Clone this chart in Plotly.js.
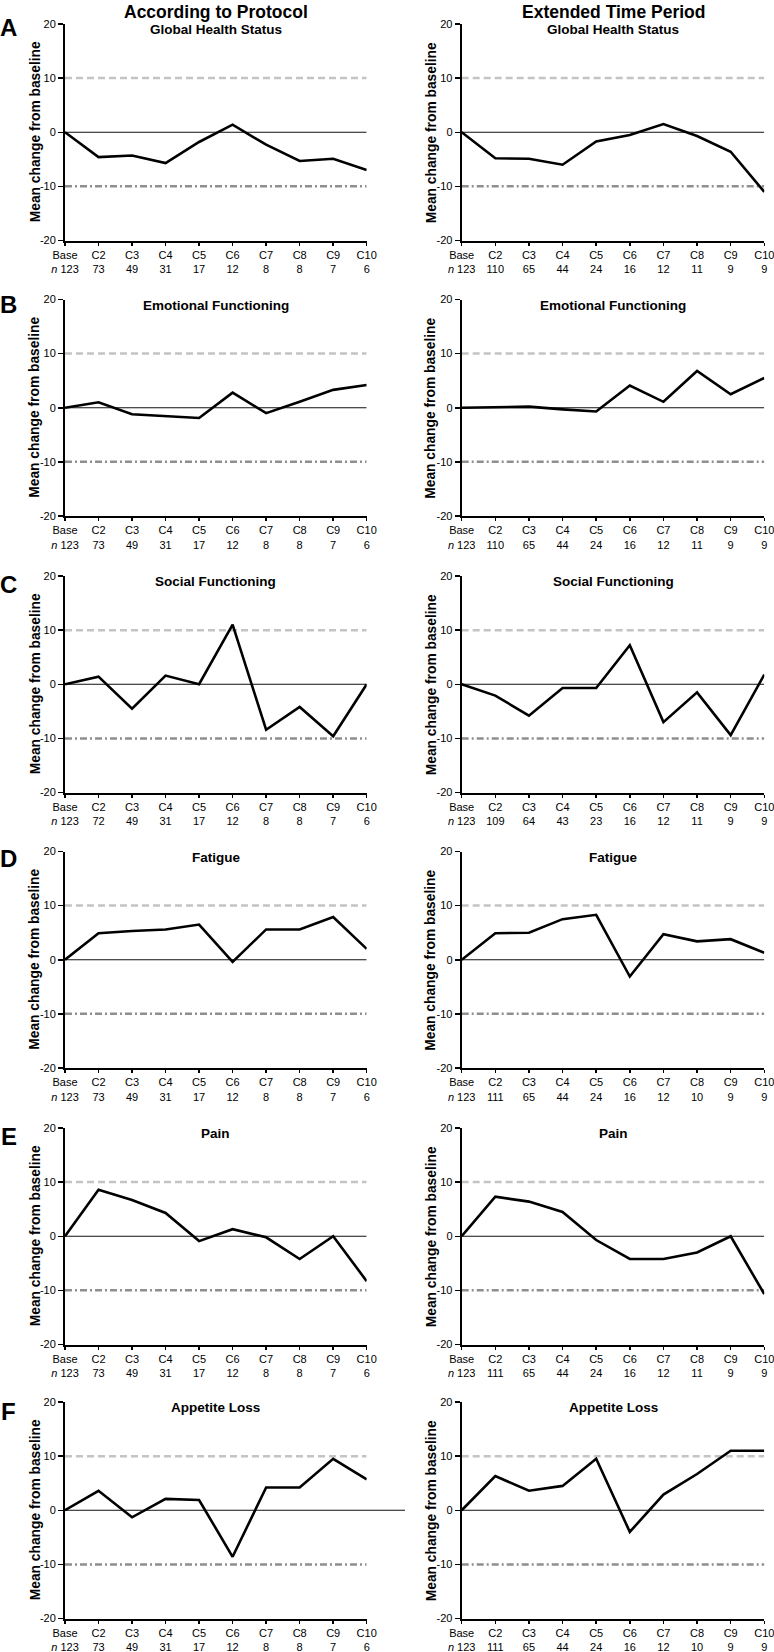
<!DOCTYPE html>
<html>
<head>
<meta charset="utf-8">
<script src="https://cdn.plot.ly/plotly-3.0.1.min.js"></script>
<style>
html,body{margin:0;padding:0;background:#fff;}
#chart{width:774px;height:1652px;}
</style>
</head>
<body>
<div id="chart"></div>
<script>
// ---------- data ----------
const cycles = ['Base','C2','C3','C4','C5','C6','C7','C8','C9','C10'];
const panelLetters = ['A','B','C','D','E','F'];
const scaleNames = ['Global Health Status','Emotional Functioning','Social Functioning','Fatigue','Pain','Appetite Loss'];
const columnTitles = ['According to Protocol','Extended Time Period'];
const yAxisTitle = 'Mean change from baseline';
const yTicks = [-20,-10,0,10,20];
const mcidUpper = 10;
const mcidLower = -10;
const noChange = 0;

// According to protocol
const protoGlobal    = [0,-4.6,-4.3,-5.7,-1.8, 1.4,-2.3,-5.3,-4.9,-7.0];
const protoEmotional = [0, 1.0,-1.2,-1.5,-1.9, 2.8,-1.0, 1.1, 3.3, 4.2];
const protoSocial    = [0, 1.4,-4.5, 1.6, 0.0,11.0,-8.4,-4.2,-9.6, 0.0];
const protoFatigue   = [0, 4.9, 5.3, 5.6, 6.5,-0.4, 5.6, 5.6, 7.9, 2.0];
const protoPain      = [0, 8.6, 6.7, 4.3,-0.9, 1.3,-0.2,-4.2, 0.0,-8.3];
const protoAppetite  = [0, 3.6,-1.3, 2.1, 1.9,-8.6, 4.2, 4.2, 9.5, 5.7];

// Extended time period
const extGlobal    = [0,-4.8,-4.9,-6.0,-1.7,-0.5, 1.5,-0.7,-3.6,-11.0];
const extEmotional = [0, 0.05,0.2,-0.3,-0.7, 4.1, 1.1, 6.8, 2.5, 5.5];
const extSocial    = [0,-2.1,-5.8,-0.7,-0.7, 7.2,-7.0,-1.5,-9.4, 1.8];
const extFatigue   = [0, 4.9, 5.0, 7.5, 8.3,-3.1, 4.7, 3.4, 3.8, 1.3];
const extPain      = [0, 7.3, 6.4, 4.5,-0.7,-4.2,-4.2,-3.0, 0.0,-10.7];
const extAppetite  = [0, 6.3, 3.6, 4.5, 9.5,-4.0, 2.9, 6.7,11.0, 11.0];

// Patients per cycle
const protoN        = [123,73,49,31,17,12,8,8,7,6];
const protoNSocial  = [123,72,49,31,17,12,8,8,7,6];
const extNGlobal    = [123,110,65,44,24,16,12,11,9,9];
const extNEmotional = [123,110,65,44,24,16,12,11,9,9];
const extNSocial    = [123,109,64,43,23,16,12,11,9,9];
const extNFatigue   = [123,111,65,44,24,16,12,10,9,9];
const extNPain      = [123,111,65,44,24,16,12,11,9,9];
const extNAppetite  = [123,111,65,44,24,16,12,10,9,9];

const protoSeries = [protoGlobal,protoEmotional,protoSocial,protoFatigue,protoPain,protoAppetite];
const extSeries   = [extGlobal,extEmotional,extSocial,extFatigue,extPain,extAppetite];
const protoNs = [protoN,protoN,protoNSocial,protoN,protoN,protoN];
const extNs   = [extNGlobal,extNEmotional,extNSocial,extNFatigue,extNPain,extNAppetite];

// ---------- layout geometry (px) ----------
const W = 774, H = 1652;
const colX = [[65,366.7],[461.7,764.3]];
const rowTop = [24,299.5,576,851.5,1128,1402];
const plotH = 216.5;
const letterOff = [4,5,8,7,8,9.5];
const FONT = 'Liberation Sans, Arial, sans-serif';

const xIdx = cycles.map((c,i)=>i);
function tickText(ns){
  return cycles.map((c,i)=> c + '<br>' + (i===0 ? '<i>n</i> ' + ns[i] : ns[i]));
}

const data = [];
const layout = {
  width: W, height: H,
  margin: {l:0,r:0,t:0,b:0},
  paper_bgcolor:'#fff', plot_bgcolor:'#fff',
  showlegend:false,
  font:{family:FONT,color:'#000',size:11},
  shapes:[], annotations:[]
};

for (let r=0;r<6;r++){
  for (let c=0;c<2;c++){
    const k = r*2 + c + 1;
    const xa = 'x'+(k===1?'':k), ya = 'y'+(k===1?'':k);
    const xKey = 'xaxis'+(k===1?'':k), yKey = 'yaxis'+(k===1?'':k);
    const top = rowTop[r], bot = top + plotH;
    const xd = [colX[c][0]/W, colX[c][1]/W];
    const yd = [1 - bot/H, 1 - top/H];
    const vals = c===0 ? protoSeries[r] : extSeries[r];
    const ns = c===0 ? protoNs[r] : extNs[r];

    layout[xKey] = {
      domain: xd, anchor: ya, range:[0,9], fixedrange:true,
      tickmode:'array', tickvals:xIdx, ticktext:tickText(ns),
      showline:true, linecolor:'#000', linewidth:2,
      ticks:'outside', ticklen:3, tickwidth:1.5, tickcolor:'#000',
      showgrid:false, zeroline:false, ticklabeloverflow:'allow',
      tickfont:{family:FONT,size:11,color:'#000'}
    };
    layout[yKey] = {
      domain: yd, anchor: xa, range:[-20,20], fixedrange:true,
      tickmode:'array', tickvals:yTicks, ticktext:yTicks.map(String),
      showline:true, linecolor:'#000', linewidth:2,
      ticks:'outside', ticklen:5, tickwidth:1.5, tickcolor:'#000',
      showgrid:false, zeroline:false, ticklabeloverflow:'allow',
      tickfont:{family:FONT,size:11,color:'#000'}
    };

    // reference lines
    layout.shapes.push({type:'line', xref:xa, yref:ya, x0:0, x1:9, y0:mcidUpper, y1:mcidUpper,
      line:{color:'#c4c4c4', width:2.5, dash:'7px,4px'}, layer:'below'});
    layout.shapes.push({type:'line', xref:xa, yref:ya, x0:0, x1:9, y0:mcidLower, y1:mcidLower,
      line:{color:'#8f8f8f', width:2.5, dash:'7px,3px,2px,3px'}, layer:'below'});
    if (r===5 && c===0){
      layout.shapes.push({type:'line', xref:'paper', yref:ya, x0:colX[0][0]/W, x1:405/W, y0:noChange, y1:noChange,
        line:{color:'#111', width:1}, layer:'below'});
    } else {
      layout.shapes.push({type:'line', xref:xa, yref:ya, x0:0, x1:9, y0:noChange, y1:noChange,
        line:{color:'#111', width:1}, layer:'below'});
    }

    data.push({
      type:'scatter', mode:'lines', x:xIdx, y:vals, xaxis:xa, yaxis:ya,
      line:{color:'#000', width:2.6}, cliponaxis:false, hoverinfo:'skip'
    });

    // subplot title
    layout.annotations.push({
      xref:'paper', yref:'paper', x:(xd[0]+xd[1])/2, y:1-(top+5.5)/H,
      xanchor:'center', yanchor:'middle', showarrow:false,
      text:'<b>'+scaleNames[r]+'</b>', font:{family:FONT,size:13.5,color:'#000'}
    });
    // y-axis title
    layout.annotations.push({
      xref:'paper', yref:'paper', x:(c===0?35:431)/W, y:1-(top+plotH/2)/H,
      xanchor:'center', yanchor:'middle', showarrow:false, textangle:-90,
      text:'<b>'+yAxisTitle+'</b>', font:{family:FONT,size:13.8,color:'#000'}
    });
  }
  // panel letter
  layout.annotations.push({
    xref:'paper', yref:'paper', x:8.5/W, y:1-(rowTop[r]+letterOff[r])/H,
    xanchor:'center', yanchor:'middle', showarrow:false,
    text:'<b>'+panelLetters[r]+'</b>', font:{family:FONT,size:24,color:'#000'}
  });
}
// column headers
for (let c=0;c<2;c++){
  layout.annotations.push({
    xref:'paper', yref:'paper', x:(colX[c][0]+colX[c][1])/2/W, y:1,
    xanchor:'center', yanchor:'top', showarrow:false,
    text:'<b>'+columnTitles[c]+'</b>', font:{family:FONT,size:17.5,color:'#000'}
  });
}

Plotly.newPlot('chart', data, layout, {staticPlot:true, displayModeBar:false});
</script>
</body>
</html>
